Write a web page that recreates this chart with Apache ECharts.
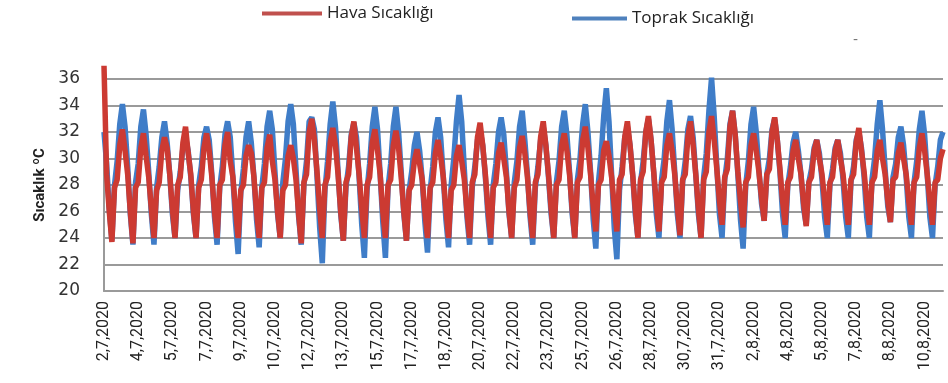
<!DOCTYPE html>
<html>
<head>
<meta charset="utf-8">
<script src="https://cdn.jsdelivr.net/npm/echarts@6/dist/echarts.min.js"></script>
<style>
  html, body { margin: 0; padding: 0; background: #fff; }
  #chart { width: 948px; height: 383px; }
</style>
</head>
<body>
<div id="chart"></div>
<script>
// tick labels, one every 13 readings (readings are 3 hours apart)
const dateLabels = [
  '2,7,2020', '4,7,2020', '5,7,2020', '7,7,2020', '9,7,2020', '10,7,2020',
  '12,7,2020', '13,7,2020', '15,7,2020', '17,7,2020', '18,7,2020', '20,7,2020',
  '22,7,2020', '23,7,2020', '25,7,2020', '26,7,2020', '28,7,2020', '30,7,2020',
  '31,7,2020', '2,8,2020', '4,8,2020', '5,8,2020', '7,8,2020', '8,8,2020', '10,8,2020'
];
const labelStep = 13;
const yMin = 20, yMax = 36, yStep = 2;

// air temperature, 8 readings per row (row = one daily cycle, low at [3], high at [7])
const havaDays = [
  [37.0, 28.8, 26.0, 23.7, 27.8, 28.4, 31.0, 32.2],
  [30.6, 28.8, 26.0, 23.6, 27.8, 28.2, 30.8, 31.9],
  [30.2, 28.6, 26.2, 24.0, 27.6, 28.2, 30.6, 31.6],
  [30.8, 28.8, 26.2, 24.0, 28.0, 28.6, 31.2, 32.4],
  [30.4, 28.8, 26.0, 24.0, 27.8, 28.4, 30.8, 31.9],
  [30.6, 28.6, 26.0, 24.0, 28.0, 28.4, 31.0, 32.0],
  [29.8, 28.6, 26.2, 24.0, 27.6, 28.0, 30.2, 31.0],
  [30.4, 28.6, 26.0, 24.0, 27.8, 28.2, 30.8, 31.8],
  [29.8, 28.4, 26.0, 24.0, 27.6, 28.0, 30.2, 31.0],
  [30.0, 28.4, 25.8, 23.6, 28.2, 28.8, 32.0, 33.0],
  [31.4, 29.0, 26.2, 24.0, 28.0, 28.6, 31.2, 32.3],
  [31.0, 28.8, 26.0, 23.8, 28.2, 28.8, 31.6, 32.8],
  [30.8, 28.8, 26.2, 24.0, 28.0, 28.6, 31.2, 32.2],
  [30.6, 28.8, 26.0, 24.0, 28.0, 28.4, 31.0, 32.1],
  [30.8, 28.6, 26.0, 23.8, 27.6, 28.0, 29.8, 30.7],
  [29.6, 28.4, 26.0, 24.0, 27.8, 28.2, 30.4, 31.4],
  [30.2, 28.6, 26.2, 24.0, 27.6, 28.0, 30.2, 31.0],
  [29.8, 28.4, 26.0, 24.0, 28.2, 28.8, 31.6, 32.7],
  [31.0, 28.8, 26.2, 24.0, 27.8, 28.2, 30.4, 31.2],
  [30.0, 28.6, 26.0, 24.0, 27.8, 28.4, 30.8, 31.7],
  [30.4, 28.6, 26.0, 24.0, 28.2, 28.8, 31.6, 32.8],
  [31.0, 28.8, 26.2, 24.0, 28.0, 28.4, 31.0, 31.9],
  [30.6, 28.8, 26.2, 24.0, 28.2, 28.6, 31.4, 32.4],
  [30.8, 28.8, 26.4, 24.5, 28.0, 28.4, 30.6, 31.3],
  [30.2, 28.6, 26.4, 24.5, 28.4, 28.8, 31.6, 32.8],
  [31.0, 28.8, 26.2, 24.0, 28.4, 29.0, 32.0, 33.2],
  [31.4, 29.0, 26.6, 24.5, 28.2, 28.6, 31.0, 31.9],
  [30.6, 28.8, 26.4, 24.2, 28.4, 28.8, 31.6, 32.8],
  [31.0, 28.8, 26.2, 24.0, 28.4, 29.0, 32.0, 33.2],
  [31.4, 29.2, 26.8, 25.0, 28.6, 29.2, 32.4, 33.6],
  [31.8, 29.0, 26.8, 24.8, 28.2, 28.6, 31.0, 31.9],
  [30.6, 29.0, 27.0, 25.3, 28.8, 29.2, 32.0, 33.1],
  [31.4, 29.2, 26.8, 25.0, 28.2, 28.6, 30.6, 31.4],
  [30.0, 28.8, 26.6, 24.9, 28.2, 28.6, 30.6, 31.4],
  [30.0, 28.8, 26.8, 25.0, 28.2, 28.6, 30.6, 31.4],
  [30.0, 28.8, 26.8, 25.0, 28.4, 28.8, 31.2, 32.3],
  [30.6, 29.0, 26.8, 25.0, 28.2, 28.6, 30.6, 31.4],
  [30.0, 28.8, 26.8, 25.2, 28.4, 28.6, 30.4, 31.2],
  [30.0, 28.8, 26.8, 25.0, 28.2, 28.6, 30.8, 31.9],
  [30.6, 28.8, 26.8, 25.0, 28.2, 28.4, 30.0, 30.7]
];

// soil temperature, same layout
const toprakDays = [
  [32.0, 29.6, 26.2, 23.8, 28.0, 29.8, 32.6, 34.1],
  [32.4, 29.4, 25.8, 23.5, 28.2, 29.6, 32.4, 33.7],
  [31.8, 29.0, 25.8, 23.5, 27.8, 29.4, 31.6, 32.8],
  [31.2, 28.8, 25.8, 24.0, 27.6, 29.0, 30.8, 31.6],
  [30.6, 28.6, 25.8, 24.0, 28.0, 29.4, 31.6, 32.4],
  [31.4, 28.8, 25.6, 23.5, 27.8, 29.4, 31.8, 32.8],
  [31.6, 28.6, 25.2, 22.8, 27.4, 29.2, 31.6, 32.8],
  [31.2, 28.6, 25.4, 23.3, 27.8, 29.6, 32.4, 33.6],
  [32.2, 29.0, 25.8, 24.0, 28.2, 30.0, 32.8, 34.1],
  [32.6, 29.2, 25.6, 23.5, 28.0, 29.8, 32.8, 33.1],
  [32.2, 28.6, 24.8, 22.1, 27.6, 29.8, 32.6, 34.3],
  [32.4, 29.0, 25.8, 23.8, 27.8, 29.4, 31.8, 32.7],
  [31.6, 28.6, 25.0, 22.5, 27.6, 29.6, 32.4, 33.9],
  [32.2, 28.8, 25.2, 22.5, 27.8, 29.6, 32.4, 33.9],
  [32.0, 29.0, 25.8, 23.8, 27.6, 29.0, 31.0, 32.0],
  [30.6, 28.4, 25.2, 22.9, 27.6, 29.4, 32.0, 33.1],
  [31.6, 28.6, 25.4, 23.3, 28.0, 30.0, 32.8, 34.8],
  [32.8, 29.2, 25.6, 23.5, 27.8, 29.4, 31.4, 32.1],
  [31.0, 28.6, 25.6, 23.5, 28.0, 29.6, 32.0, 33.1],
  [31.8, 29.0, 25.8, 24.0, 28.2, 29.8, 32.4, 33.6],
  [31.4, 28.8, 25.6, 23.5, 27.8, 29.4, 31.4, 32.4],
  [31.0, 28.6, 25.8, 24.0, 28.2, 29.8, 32.4, 33.6],
  [31.8, 29.0, 25.8, 24.0, 28.4, 30.0, 32.6, 34.1],
  [32.0, 29.0, 25.4, 23.2, 28.2, 30.2, 33.2, 35.3],
  [32.8, 28.8, 24.8, 22.4, 27.6, 29.4, 31.6, 32.4],
  [31.0, 28.8, 25.8, 24.0, 28.2, 29.8, 32.0, 33.0],
  [31.4, 29.0, 25.8, 24.0, 28.4, 30.0, 32.8, 34.4],
  [32.2, 29.0, 25.8, 24.0, 28.2, 29.8, 32.2, 33.2],
  [31.6, 28.8, 25.8, 24.0, 28.6, 30.4, 33.6, 36.1],
  [33.2, 29.4, 25.8, 24.0, 28.4, 30.0, 32.6, 33.6],
  [31.8, 28.8, 25.4, 23.2, 28.0, 29.8, 32.6, 33.9],
  [32.0, 29.2, 26.6, 25.3, 28.8, 30.0, 32.2, 33.0],
  [31.4, 29.0, 25.8, 24.0, 28.0, 29.4, 31.2, 32.0],
  [30.6, 28.8, 26.2, 25.0, 28.2, 29.2, 30.8, 31.4],
  [30.4, 28.4, 25.6, 24.0, 28.0, 29.2, 30.8, 31.4],
  [30.4, 28.4, 25.6, 24.0, 28.2, 29.4, 31.4, 32.0],
  [30.8, 28.6, 25.6, 24.0, 28.4, 30.0, 32.6, 34.4],
  [32.2, 29.2, 26.4, 25.2, 28.6, 29.6, 31.6, 32.4],
  [31.0, 28.6, 25.6, 24.0, 28.2, 29.8, 32.2, 33.6],
  [31.8, 28.8, 25.6, 24.0, 28.0, 29.4, 31.4, 32.0]
];

const hava = havaDays.flat();
const toprak = toprakDays.flat();
const categories = hava.map((_, i) => (i % labelStep === 0 ? dateLabels[i / labelStep] || '' : ''));

const gridColor = '#9a9a9a';

const chart = echarts.init(document.getElementById('chart'));
chart.setOption({
  animation: false,
  grid: { left: 104, right: 5, top: 79, bottom: 92 },
  legend: [
    {
      data: [{ name: 'Hava Sıcaklığı', itemStyle: { color: '#c0504d' } }],
      left: 262, top: 5, padding: 0,
      icon: 'rect', itemWidth: 60, itemHeight: 4, itemGap: 4,
      textStyle: { fontFamily: 'Open Sans', fontSize: 17, color: '#222' }
    },
    {
      data: [{ name: 'Toprak Sıcaklığı', itemStyle: { color: '#4f81bd' } }],
      left: 572, top: 10, padding: 0,
      icon: 'rect', itemWidth: 55, itemHeight: 4, itemGap: 4,
      textStyle: { fontFamily: 'Open Sans', fontSize: 17, color: '#222' }
    }
  ],
  xAxis: {
    type: 'category',
    data: categories,
    boundaryGap: false,
    axisLine: { show: true, lineStyle: { color: gridColor, width: 2 } },
    axisTick: { show: false },
    axisLabel: {
      interval: labelStep - 1,
      rotate: 90,
      margin: 10,
      color: '#222',
      fontFamily: 'Roboto',
      fontSize: 16
    }
  },
  yAxis: {
    type: 'value',
    min: yMin, max: yMax, interval: yStep,
    name: 'Sıcaklık ºC',
    nameLocation: 'middle',
    nameRotate: 90,
    nameGap: 47,
    nameTextStyle: { fontFamily: 'Roboto', fontWeight: 'bold', fontSize: 15, color: '#222' },
    axisLine: { show: true, lineStyle: { color: gridColor, width: 2 } },
    axisLabel: { margin: 24, color: '#333', fontFamily: 'DejaVu Sans', fontSize: 17 },
    splitLine: { show: true, lineStyle: { color: gridColor, width: 2 } }
  },
  series: [
    {
      name: 'Toprak Sıcaklığı',
      type: 'line',
      data: toprak,
      showSymbol: false,
      clip: false,
      lineStyle: { color: '#3f7dc8', width: 5.5 },
      itemStyle: { color: '#3f7dc8' }
    },
    {
      name: 'Hava Sıcaklığı',
      type: 'line',
      data: hava,
      showSymbol: false,
      clip: false,
      lineStyle: { color: '#cc3a32', width: 5.5 },
      itemStyle: { color: '#cc3a32' }
    }
  ],
  graphic: [
    { type: 'text', left: 853, top: 33, silent: true, style: { text: '-', fill: '#777', font: '14px DejaVu Sans' } }
  ]
});
</script>
</body>
</html>
